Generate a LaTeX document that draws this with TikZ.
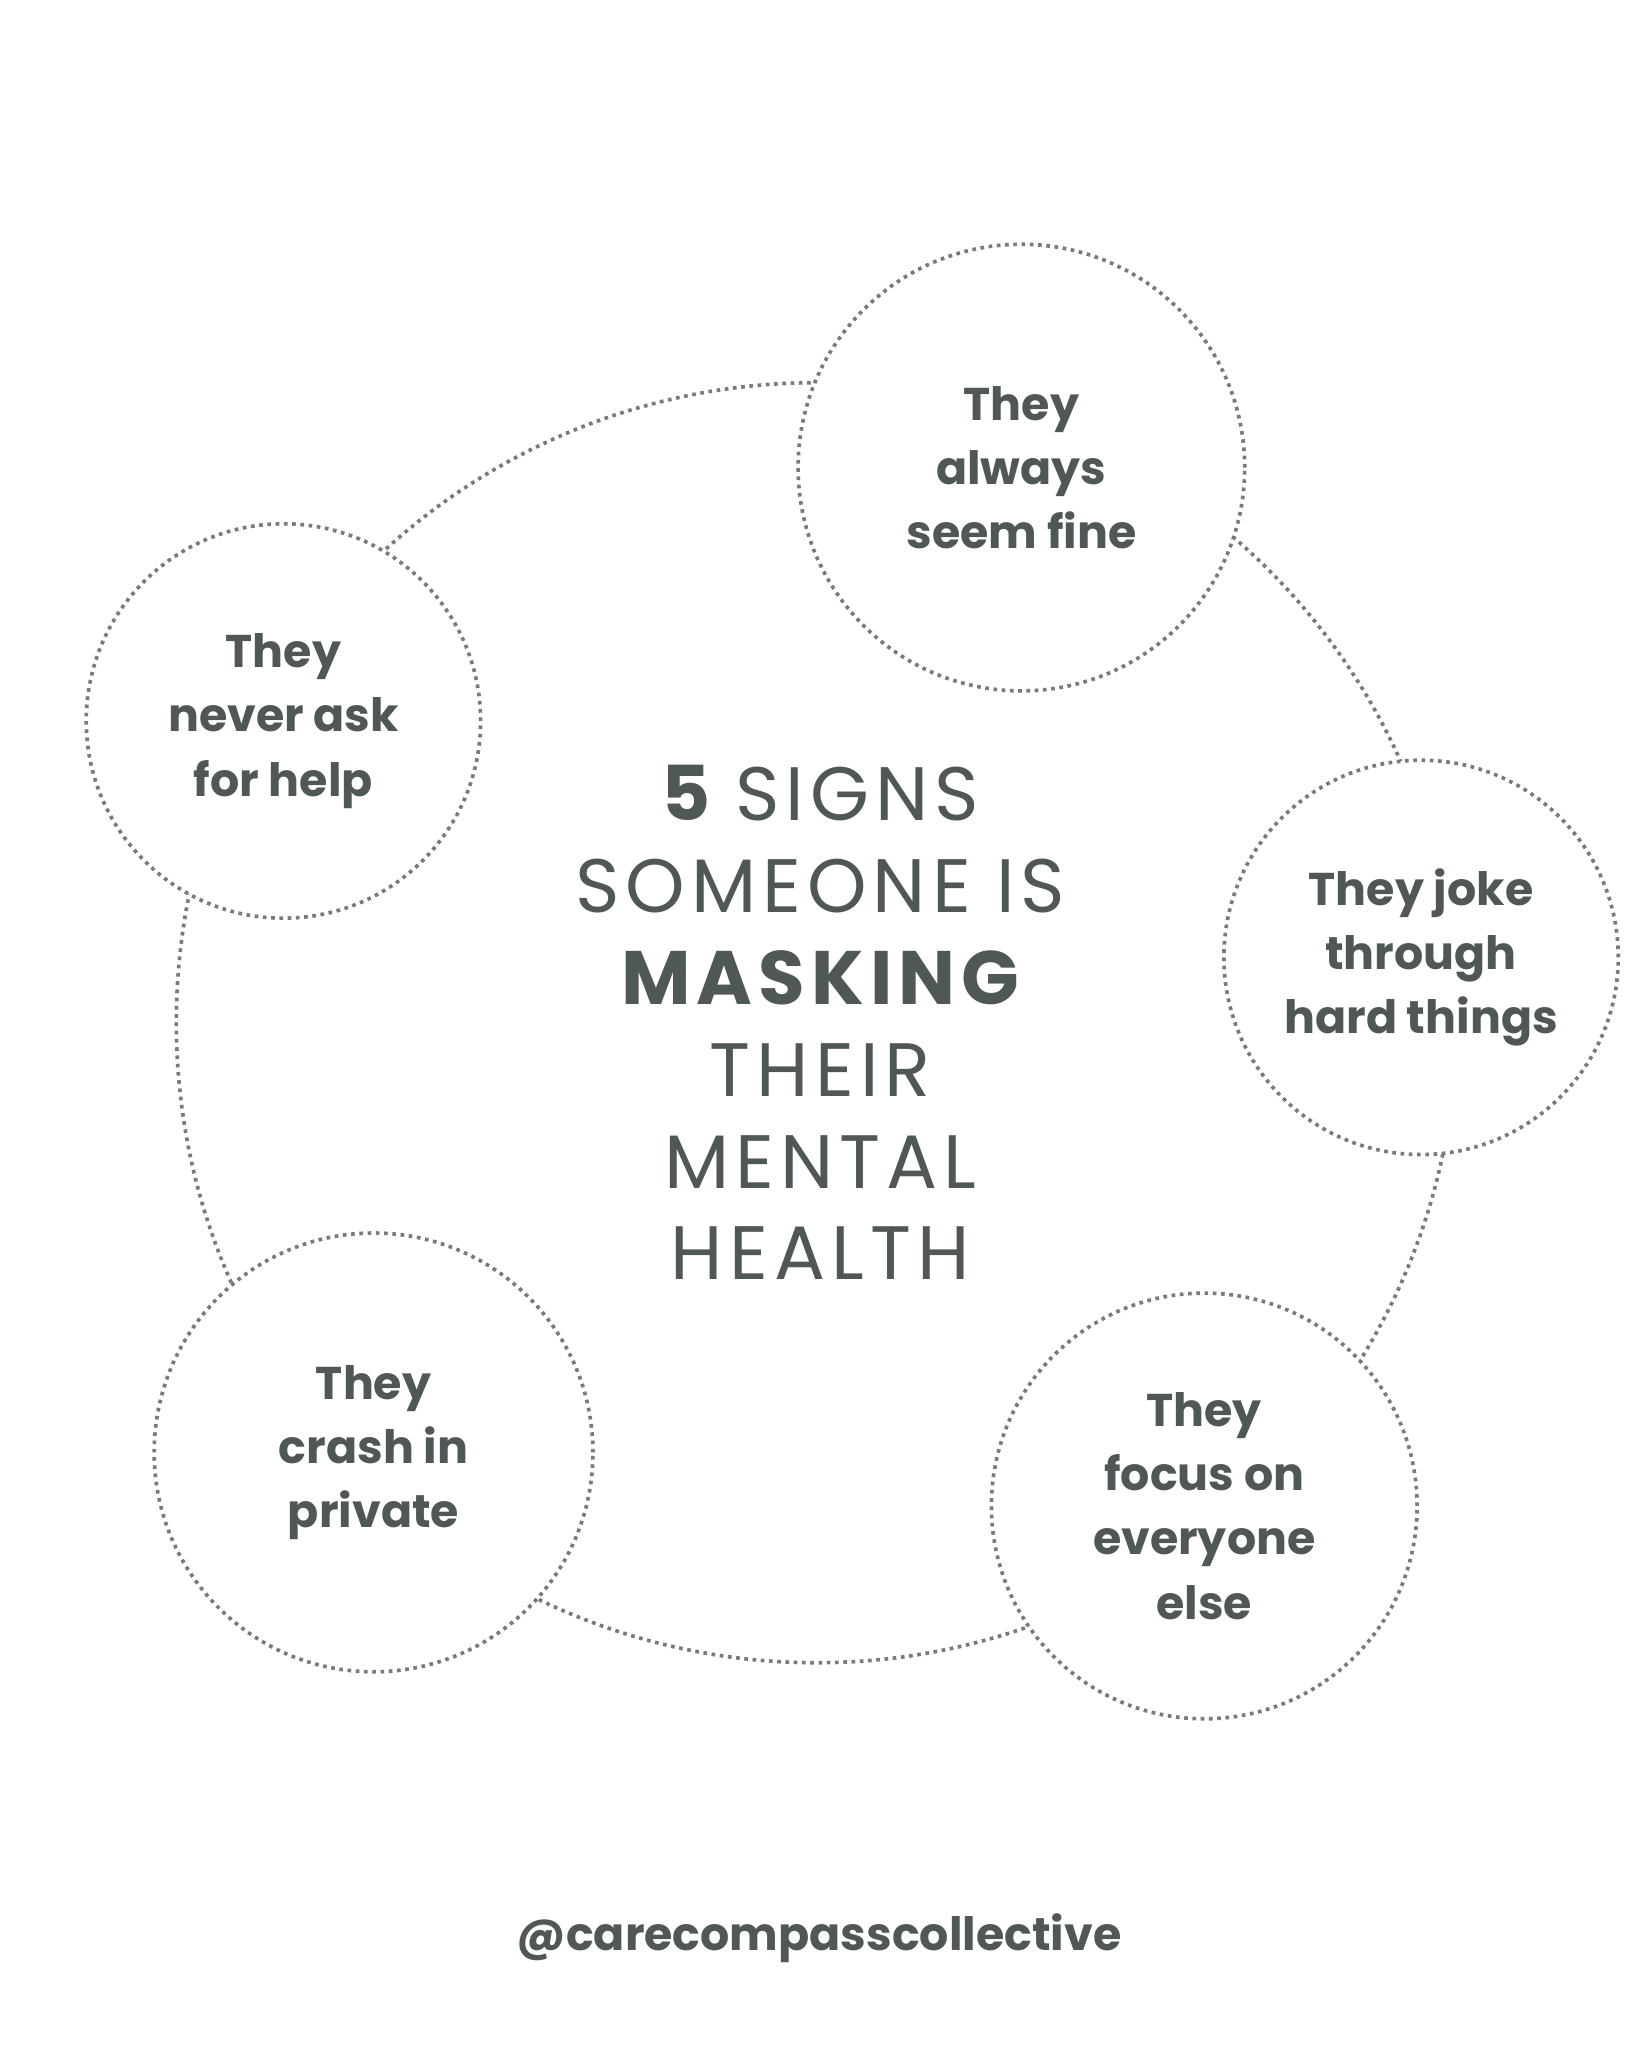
\documentclass[tikz,border=0pt]{standalone}
\usepackage{fontspec}
\setmainfont{Poppins}
\definecolor{ink}{HTML}{4F5853}
\definecolor{dot}{HTML}{7A7A7A}
\begin{document}
\begin{tikzpicture}[x=0.02cm,y=-0.02cm,
  sign/.style={circle,draw=dot,line width=1.6pt,dotted,fill=white,inner sep=0pt,align=center,text=ink,font=\fontsize{20}{28}\selectfont\bfseries}]
\useasboundingbox[fill=white] (0,0) rectangle (1254,1568);
\draw[dot,line width=1.6pt,dotted] (625,783) circle[radius=490];
\node[sign,minimum size=6.84cm] (a) at (782,358) {They\\always\\seem fine};
\node[sign,minimum size=6.04cm] (b) at (217,552) {They\\never ask\\for help};
\node[sign,minimum size=6.04cm] (c) at (1088,733) {They joke\\through\\hard things};
\node[sign,minimum size=6.72cm] (d) at (286,1112) {They\\crash in\\private};
\node[sign,minimum size=6.52cm] (e) at (922,1153) {They\\focus on\\everyone\\else};
\node[text=ink,align=center,font=\fontsize{33}{40}\selectfont,text width=9cm] (t) at (628,783)
 {\addfontfeature{LetterSpace=8}{\bfseries 5} SIGNS\\SOMEONE IS\\{\bfseries MASKING}\\THEIR\\MENTAL\\HEALTH};
\node[text=ink,font=\fontsize{20}{24}\selectfont\bfseries] (h) at (627,1484) {@carecompasscollective};
\end{tikzpicture}
\end{document}
